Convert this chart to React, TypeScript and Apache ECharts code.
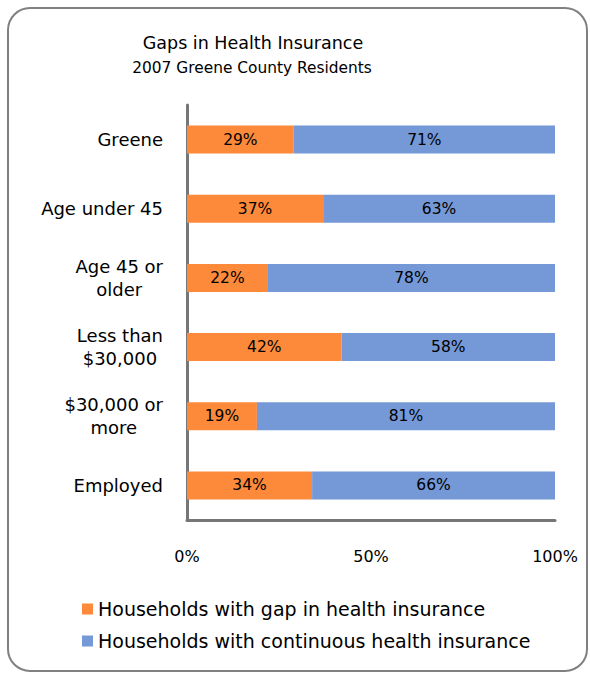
import React, { useEffect, useRef } from "react";
import * as echarts from "echarts";

const categories = ["Greene", "Age under 45", "Age 45 or\nolder", "Less than\n$30,000", "$30,000 or\nmore", "Employed"];
const gapValues = [29, 37, 22, 42, 19, 34];
const continuousValues = [71, 63, 78, 58, 81, 66];
const seriesNames = ["Households with gap in health insurance", "Households with continuous health insurance"];
const titleText = "Gaps in Health Insurance";
const subtitleText = "2007 Greene County Residents";

const FONT = "DejaVu Sans";

export default function App() {
  const ref = useRef<HTMLDivElement>(null);
  useEffect(() => {
    if (!ref.current) return;
    const chart = echarts.init(ref.current, undefined, { renderer: "svg" });
    const labelStyle = {
      show: true,
      position: "inside",
      color: "#000",
      fontFamily: FONT,
      fontSize: 15.5,
      formatter: "{c}%",
    };
    chart.setOption({
      animation: false,
      backgroundColor: "#fff",
      textStyle: { fontFamily: FONT },
      graphic: [
        {
          type: "rect",
          shape: { x: 8, y: 8, width: 579, height: 663, r: 22 },
          style: { fill: "none", stroke: "#808080", lineWidth: 2 },
          silent: true,
        },
        {
          type: "text",
          x: 253,
          y: 34,
          style: { text: titleText, fontFamily: FONT, fontSize: 17.5, fill: "#000", textAlign: "center" },
        },
        {
          type: "text",
          x: 252,
          y: 60,
          style: { text: subtitleText, fontFamily: FONT, fontSize: 15.4, fill: "#000", textAlign: "center" },
        },
      ],
      grid: { left: 187, right: 35, top: 105, height: 415, containLabel: false },
      xAxis: {
        type: "value",
        min: 0,
        max: 100,
        interval: 50,
        axisLine: { show: true, lineStyle: { color: "#767676", width: 3 } },
        axisTick: { show: false },
        splitLine: { show: false },
        axisLabel: { formatter: "{value}%", color: "#000", fontSize: 16, fontFamily: FONT, margin: 28 },
      },
      yAxis: {
        type: "category",
        inverse: true,
        data: categories,
        axisLine: { show: true, lineStyle: { color: "#767676", width: 3 } },
        axisTick: { show: false },
        axisLabel: {
          color: "#000",
          fontSize: 18,
          fontFamily: FONT,
          margin: 24,
          lineHeight: 23,
          formatter: (v: string) =>
            v
              .split("\n")
              .map((s) => "{c|" + s + "}")
              .join("\n"),
          rich: { c: { align: "center", fontSize: 18, fontFamily: FONT, color: "#000", lineHeight: 23 } },
        },
      },
      legend: {
        orient: "vertical",
        left: 82,
        top: 599,
        itemWidth: 11,
        itemHeight: 11,
        itemGap: 12,
        icon: "rect",
        padding: 0,
        textStyle: { fontSize: 19, lineHeight: 20, fontFamily: FONT, color: "#000" },
        data: seriesNames,
      },
      series: [
        {
          name: seriesNames[0],
          type: "bar",
          stack: "total",
          data: gapValues,
          barWidth: 28,
          itemStyle: { color: "#FC8A3A" },
          label: labelStyle,
        },
        {
          name: seriesNames[1],
          type: "bar",
          stack: "total",
          data: continuousValues,
          barWidth: 28,
          itemStyle: { color: "#7598D6" },
          label: labelStyle,
        },
      ],
    });
    return () => chart.dispose();
  }, []);
  return <div ref={ref} style={{ position: "fixed", left: 0, top: 0, width: 590, height: 675 }} />;
}
